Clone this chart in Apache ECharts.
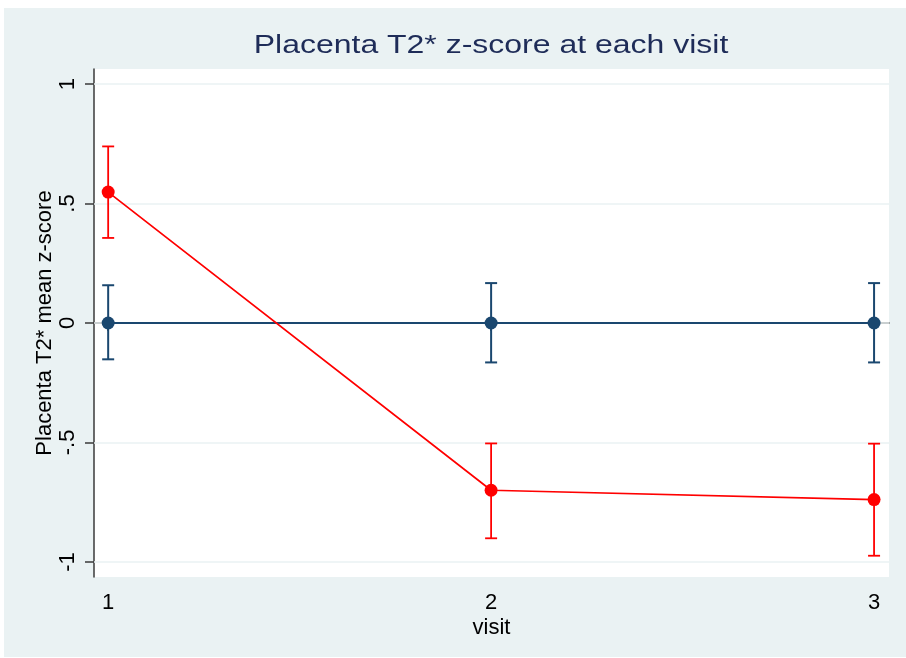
<!DOCTYPE html>
<html>
<head>
<meta charset="utf-8">
<script src="https://cdn.jsdelivr.net/npm/echarts@6/dist/echarts.min.js"></script>
<style>
  html, body { margin: 0; padding: 0; background: #ffffff; }
  #frame { position: absolute; left: 4px; top: 8px; width: 902px; height: 649px; background: #eaf2f3; }
  #chart { position: absolute; left: 0; top: 0; width: 906px; height: 658px; }
</style>
</head>
<body>
<div id="frame"></div>
<div id="chart"></div>
<script>
// Visits on the x axis
const visits = [1, 2, 3];

// Reference group: mean z-score with 95% CI bounds
const refMean  = [0, 0, 0];
const refLower = [-0.152, -0.165, -0.165];
const refUpper = [0.158, 0.167, 0.167];

// Study group: mean z-score with 95% CI bounds
const grpMean  = [0.548, -0.700, -0.739];
const grpLower = [0.356, -0.901, -0.974];
const grpUpper = [0.739, -0.504, -0.505];

// Tick positions
const yTicks = [-1, -0.5, 0, 0.5, 1];
const xTicks = [1, 2, 3];

const FONT = '"Liberation Sans", Arial, Helvetica, sans-serif';
const NAVY = '#1a476f';
const RED = '#ff0000';
const AXIS = '#3a3a3a';

function fmtY(v) {
  return String(v).replace('0.', '.');
}

function errorBars(lo, hi, color, width) {
  return {
    type: 'custom',
    z: 2,
    silent: true,
    data: visits.map((v, i) => [v, lo[i], hi[i]]),
    encode: { x: 0, y: [1, 2] },
    renderItem: function (params, api) {
      const x = api.value(0);
      const a = api.coord([x, api.value(1)]);
      const b = api.coord([x, api.value(2)]);
      const half = 6;
      const st = { stroke: color, lineWidth: width };
      return {
        type: 'group',
        children: [
          { type: 'line', shape: { x1: a[0], y1: a[1], x2: b[0], y2: b[1] }, style: st },
          { type: 'line', shape: { x1: a[0] - half, y1: a[1], x2: a[0] + half, y2: a[1] }, style: st },
          { type: 'line', shape: { x1: b[0] - half, y1: b[1], x2: b[0] + half, y2: b[1] }, style: st }
        ]
      };
    }
  };
}

function meanLine(values, color, width) {
  return {
    type: 'line',
    z: 3,
    silent: true,
    data: visits.map((v, i) => [v, values[i]]),
    symbol: 'circle',
    symbolSize: 13,
    itemStyle: { color: color },
    lineStyle: { color: color, width: width },
    animation: false
  };
}

const chart = echarts.init(document.getElementById('chart'), null, { renderer: 'canvas' });

chart.setOption({
  backgroundColor: 'transparent',
  animation: false,
  graphic: [{
    type: 'text',
    x: 491,
    y: 46,
    scaleX: 1.23,
    style: {
      text: 'Placenta T2* z-score at each visit',
      fontFamily: FONT,
      fontSize: 26,
      fill: '#1e2c58',
      textAlign: 'center',
      textVerticalAlign: 'middle'
    }
  }],
  grid: {
    left: 94, top: 69, right: 17, bottom: 81,
    show: true, backgroundColor: '#ffffff', borderWidth: 0
  },
  xAxis: {
    type: 'value',
    min: 0.963, max: 3.039,
    name: 'visit',
    nameLocation: 'middle',
    nameGap: 40,
    nameMoveOverlap: false,
    nameTextStyle: { fontFamily: FONT, fontSize: 22, color: '#000' },
    axisLine: { show: true, lineStyle: { color: AXIS, width: 1.5 } },
    axisTick: { show: true, customValues: xTicks, length: 8, lineStyle: { color: AXIS, width: 1.5 } },
    axisLabel: { customValues: xTicks, fontFamily: FONT, fontSize: 22, color: '#000', margin: 15 },
    splitLine: { show: false }
  },
  yAxis: {
    type: 'value',
    min: -1.063, max: 1.063,
    name: 'Placenta T2* mean z-score',
    nameLocation: 'middle',
    nameRotate: 90,
    nameGap: 38,
    nameMoveOverlap: false,
    nameTextStyle: { fontFamily: FONT, fontSize: 22, color: '#000' },
    axisLine: { show: true, lineStyle: { color: AXIS, width: 1.5 } },
    axisTick: { show: true, customValues: yTicks, length: 9, lineStyle: { color: AXIS, width: 1.5 } },
    axisLabel: { customValues: yTicks, rotate: 90, fontFamily: FONT, fontSize: 22, color: '#000', margin: 15, formatter: fmtY },
    splitLine: { show: false }
  },
  series: [
    {
      type: 'line',
      z: 1,
      data: [],
      silent: true,
      markLine: {
        z: 1,
        silent: true,
        symbol: 'none',
        label: { show: false },
        lineStyle: { color: '#eaf2f3', width: 1.5, type: 'solid' },
        data: yTicks.map(v => ({ yAxis: v })),
        animation: false
      }
    },
    errorBars(refLower, refUpper, NAVY, 2),
    meanLine(refMean, NAVY, 2),
    errorBars(grpLower, grpUpper, RED, 1.8),
    meanLine(grpMean, RED, 1.7)
  ]
});
</script>
</body>
</html>
